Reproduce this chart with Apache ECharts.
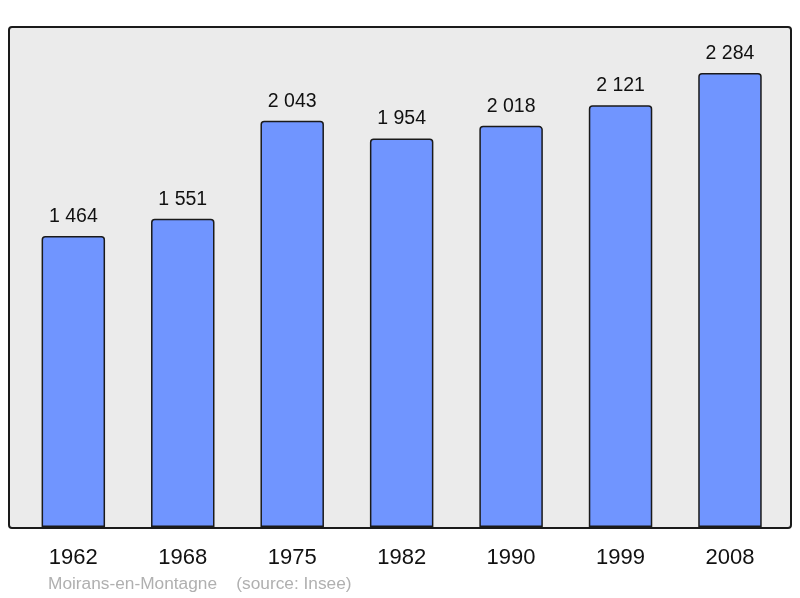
<!DOCTYPE html>
<html><head><meta charset="utf-8">
<script src="https://cdn.jsdelivr.net/npm/echarts@6/dist/echarts.min.js"></script>
<style>html,body{margin:0;padding:0;background:#fff}#c{width:800px;height:598px}</style>
</head><body><div id="c"></div>
<script>
const years = ['1962','1968','1975','1982','1990','1999','2008'];
const population = [1464, 1551, 2043, 1954, 2018, 2121, 2284];
const footer = 'Moirans-en-Montagne    (source: Insee)';

function fmt(v){ return String(v).replace(/\B(?=(\d{3})+(?!\d))/g, ' '); }

const chart = echarts.init(document.getElementById('c'), null, {renderer:'canvas'});
chart.setOption({
  animation:false,
  backgroundColor:'#ffffff',
  textStyle:{fontFamily:'Liberation Sans, Arial, sans-serif'},
  graphic:[
    {type:'rect', z:-10, shape:{x:9, y:27, width:782, height:501, r:3},
     style:{fill:'#ebebeb', stroke:'#1a1a1a', lineWidth:2}},
    {type:'text', left:48, top:576, style:{text:footer, fill:'#b0b0b0', font:'17.3px "Liberation Sans", Arial, sans-serif'}}
  ],
  grid:{left:18.6, right:15.3, top:30, bottom:71, containLabel:false},
  xAxis:{type:'category', data:years,
    axisLine:{show:false}, axisTick:{show:false},
    axisLabel:{fontSize:22, color:'#111', margin:20, fontFamily:'Liberation Sans, Arial, sans-serif'}},
  yAxis:{type:'value', min:0, max:2500, show:false, splitLine:{show:false}},
  series:[{
    type:'bar', data:population, barCategoryGap:'42%',
    itemStyle:{color:'#7095ff', borderColor:'#1a1a1a', borderWidth:1.5, borderRadius:[3,3,0,0]},
    label:{show:true, position:'top', distance:9.5, fontSize:19.5, color:'#111',
      fontFamily:'Liberation Sans, Arial, sans-serif',
      formatter:p=>fmt(p.value)}
  }]
});
</script></body></html>
